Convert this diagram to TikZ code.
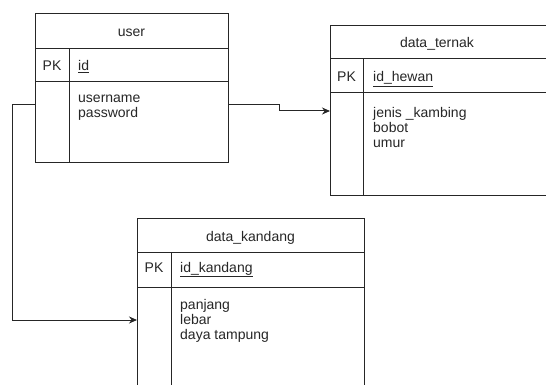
\documentclass[tikz,border=0pt]{standalone}
\usepackage{fontspec}
\setmainfont{Liberation Sans}
\usetikzlibrary{arrows.meta}
\tikzset{
  tbl/.style={draw=black!85, line width=1pt, rectangle, inner sep=0pt, outer sep=0pt, anchor=north west},
  rule/.style={draw=black!85, line width=1pt},
  label/.style={font=\fontsize{14}{15}\selectfont, text=black!85, inner sep=0pt},
  title/.style={label, anchor=base},
  pk/.style={label, anchor=base},
  key/.style={label, anchor=base west},
  % multi-line field lists sit on the baseline of their last line
  fields/.style={label, anchor=base west, align=left},
  link/.style={draw=black!85, line width=1pt},
  tip/.style={-{Stealth[length=8pt,width=7pt]}}
}
\begin{document}
\begin{tikzpicture}[x=1pt,y=-1pt]
\useasboundingbox (0,0) rectangle (546,385);
\clip (0,0) rectangle (546,385);

% table: user
\node[tbl, minimum width=193pt, minimum height=148pt] (user) at (35,14) {};
\draw[rule] (35,49) -- (228,49);
\draw[rule] (35,82) -- (228,82);
\draw[rule] (69,49) -- (69,162);
\node[title] (userT) at (131.5,37) {user};
\node[pk] (userPK) at (52,71) {PK};
\node[key] (userId) at (78,71) {\underline{id}};
\node[fields] (userF) at (78,118) {username\\password};

% table: data_ternak
\node[tbl, minimum width=230pt, minimum height=169pt] (ternak) at (330,26) {};
\draw[rule] (330,59) -- (560,59);
\draw[rule] (330,93) -- (560,93);
\draw[rule] (363,59) -- (363,195);
\node[title] (ternakT) at (437,48) {data\_ternak};
\node[pk] (ternakPK) at (346.5,82) {PK};
\node[key] (ternakId) at (373,82) {\underline{id\_hewan}};
\node[fields] (ternakF) at (373,148) {jenis \_kambing\\bobot\\umur};

% table: data_kandang
\node[tbl, minimum width=227pt, minimum height=190pt] (kandang) at (137,218) {};
\draw[rule] (137,252) -- (364,252);
\draw[rule] (137,287) -- (364,287);
\draw[rule] (171,252) -- (171,408);
\node[title] (kandangT) at (250.5,241) {data\_kandang};
\node[pk] (kandangPK) at (154,272) {PK};
\node[key] (kandangId) at (180,272) {\underline{id\_kandang}};
\node[fields] (kandangF) at (180,339) {panjang\\lebar\\daya tampung};

% relations
\coordinate (uR) at (user.east |- 0,105);
\coordinate (uL) at (user.west |- 0,105);
\coordinate (tIn) at (ternak.west |- 0,111);
\coordinate (kIn) at (kandang.west |- 0,320);
\draw[link, tip] (uR) -- (279,105) -- (279,111) -- (tIn);
\draw[link, tip] (uL) -- (12,105) -- (12,320) -- (kIn);
\end{tikzpicture}
\end{document}
